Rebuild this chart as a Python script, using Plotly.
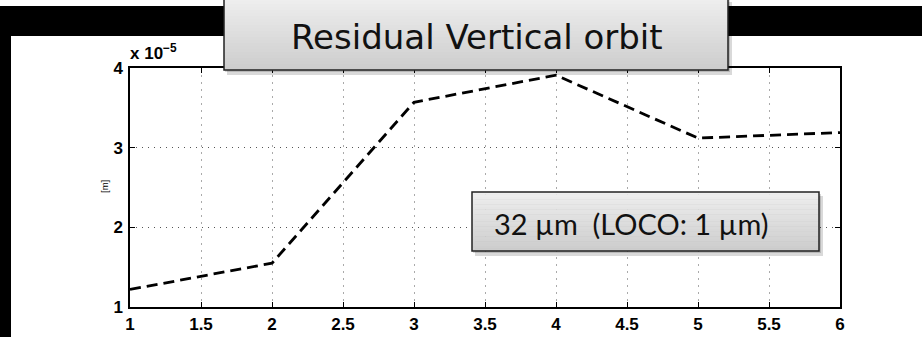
import plotly.graph_objects as go

W, H = 922, 337

# Data (values in units of 1e-5 m)
step = [1, 2, 3, 4, 5, 6]
residual_1e5 = [1.22, 1.55, 3.57, 3.91, 3.12, 3.19]
x_ticks = [1, 1.5, 2, 2.5, 3, 3.5, 4, 4.5, 5, 5.5, 6]
x_ticklabels = ["1", "1.5", "2", "2.5", "3", "3.5", "4", "4.5", "5", "5.5", "6"]
y_ticks = [1, 2, 3, 4]
y_ticklabels = ["1", "2", "3", "4"]
title_text = "Residual Vertical orbit"
box_text = "32 µm\u00a0 (LOCO: 1 µm)"

def px(x):
    return x / W

def py(y):
    return 1 - y / H

fig = go.Figure()
fig.add_trace(go.Scatter(
    x=step, y=residual_1e5, mode="lines",
    line=dict(color="black", width=2.8, dash="11px,6px"),
    showlegend=False, hoverinfo="skip",
))

shapes = []
shapes.append(dict(type="rect", xref="paper", yref="paper", x0=0, x1=1,
                   y0=py(36), y1=py(6), fillcolor="black", line_width=0, layer="above"))
shapes.append(dict(type="rect", xref="paper", yref="paper", x0=0, x1=px(11),
                   y0=0, y1=py(6), fillcolor="black", line_width=0, layer="above"))

def gradient_box(x0, y0, x1, y1, top=(238, 238, 238), bot=(205, 205, 205), n=24):
    out = []
    out.append(dict(type="rect", xref="paper", yref="paper", x0=px(x0 + 3), x1=px(x1 + 4),
                    y0=py(y1 + 5), y1=py(y0 + 4), fillcolor="rgba(0,0,0,0.15)",
                    line_width=0, layer="above"))
    out.append(dict(type="rect", xref="paper", yref="paper", x0=px(x0 + 1), x1=px(x1 + 2),
                    y0=py(y1 + 2), y1=py(y0 + 2), fillcolor="rgba(0,0,0,0.15)",
                    line_width=0, layer="above"))
    hh = (y1 - y0) / n
    for i in range(n):
        t = i / (n - 1)
        c = tuple(int(round(top[k] + (bot[k] - top[k]) * t)) for k in range(3))
        out.append(dict(type="rect", xref="paper", yref="paper", x0=px(x0), x1=px(x1),
                        y0=py(y0 + (i + 1) * hh + 0.3), y1=py(y0 + i * hh),
                        fillcolor="rgb(%d,%d,%d)" % c, line_width=0, layer="above"))
    out.append(dict(type="rect", xref="paper", yref="paper", x0=px(x0), x1=px(x1),
                    y0=py(y1), y1=py(y0), fillcolor="rgba(0,0,0,0)",
                    line=dict(color="#222222", width=1.5), layer="above"))
    return out

shapes += gradient_box(224, -2, 728, 70)
shapes += gradient_box(472, 192, 819, 251)

annotations = [
    dict(text=title_text, xref="paper", yref="paper", x=px(477), y=py(37),
         xanchor="center", yanchor="middle", showarrow=False,
         font=dict(family="DejaVu Sans", size=34, color="#111111")),
    dict(text=box_text, xref="paper", yref="paper", x=px(492), y=py(223),
         xanchor="left", yanchor="middle", showarrow=False,
         font=dict(family="Lato", size=29, color="#111111")),
    dict(text="x 10<sup>−5</sup>", xref="paper", yref="paper", x=px(128), y=py(65),
         xanchor="left", yanchor="bottom", showarrow=False,
         font=dict(family="Liberation Sans", size=17, color="black", weight="bold")),
    dict(text="[m]", xref="paper", yref="paper", x=px(105), y=py(187),
         xanchor="center", yanchor="middle", showarrow=False, textangle=-90,
         font=dict(family="Liberation Sans", size=9.5, color="black")),
]

tickfont = dict(family="Liberation Sans", size=17, color="black", weight="bold")

fig.update_layout(
    width=W, height=H,
    margin=dict(l=0, r=0, t=0, b=0, pad=0, autoexpand=False),
    paper_bgcolor="white", plot_bgcolor="white",
    shapes=shapes, annotations=annotations,
    xaxis=dict(domain=[px(130), px(840)], range=[1, 6], tickvals=x_ticks,
               ticktext=x_ticklabels, showline=True, linecolor="black", linewidth=1.5,
               mirror="allticks", ticks="inside", ticklen=5, tickcolor="black",
               showgrid=True, gridcolor="#aaaaaa", griddash="2px,5px", gridwidth=1,
               zeroline=False, automargin=False, ticklabelstandoff=1, tickfont=tickfont),
    yaxis=dict(domain=[py(307), py(68)], range=[1, 4], tickvals=y_ticks,
               ticktext=y_ticklabels, showline=True, linecolor="black", linewidth=1.5,
               mirror="allticks", ticks="inside", ticklen=5, tickcolor="black",
               showgrid=True, gridcolor="#555555", griddash="1px,5px", gridwidth=1,
               zeroline=False, automargin=False, ticklabelstandoff=2, tickfont=tickfont),
)

fig.write_html("out.html")
